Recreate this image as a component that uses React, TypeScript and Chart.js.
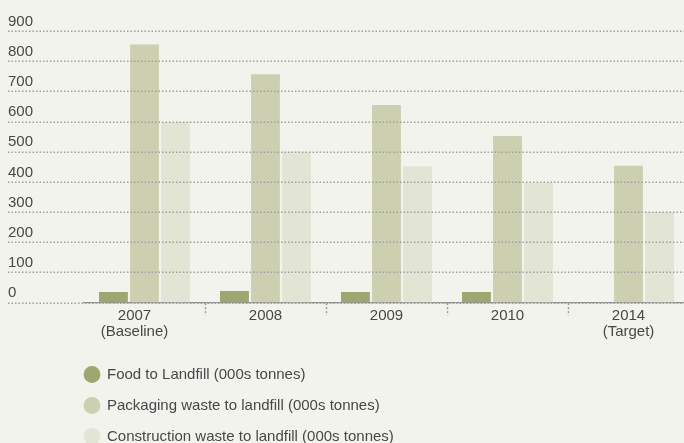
import React, { useEffect, useRef } from "react";
import { Chart, registerables } from "chart.js";

Chart.register(...registerables);

const categories: (string | string[])[] = [["2007", "(Baseline)"], "2008", "2009", "2010", ["2014", "(Target)"]];
const foodValues: (number | null)[] = [35, 38, 35, 35, null];
const packagingValues: number[] = [855, 757, 655, 552, 453];
const constructionValues: number[] = [598, 500, 452, 397, 300];
const seriesLabels: string[] = [
  "Food to Landfill (000s tonnes)",
  "Packaging waste to landfill (000s tonnes)",
  "Construction waste to landfill (000s tonnes)",
];
const seriesColors: string[] = ["#a0a672", "#cccfb0", "#e2e4d4"];
const yTicks: number[] = [0, 100, 200, 300, 400, 500, 600, 700, 800, 900];

const FONT = "'Liberation Sans', Arial, Helvetica, sans-serif";
const TEXT_COLOR = "#474747";
const BG = "#f3f3ee";
const CANVAS_W = 692;
const CANVAS_H = 443;

const gridPlugin = {
  id: "customGrid",
  afterDatasetsDraw(chart: any) {
    const { ctx, scales } = chart;
    const y = scales.y;
    ctx.save();
    ctx.strokeStyle = "#a0a0a0";
    ctx.lineWidth = 1.5;
    ctx.setLineDash([1.5, 2]);
    yTicks.forEach((v) => {
      const py = Math.round(y.getPixelForValue(v)) + 0.25;
      ctx.beginPath();
      ctx.moveTo(8, py);
      ctx.lineTo(chart.width, py);
      ctx.stroke();
    });
    ctx.setLineDash([]);
    ctx.fillStyle = TEXT_COLOR;
    ctx.font = `15px ${FONT}`;
    ctx.textAlign = "left";
    ctx.textBaseline = "alphabetic";
    yTicks.forEach((v) => {
      const py = y.getPixelForValue(v);
      ctx.fillText(String(v), 8, py - 5.3);
    });
    ctx.restore();
  },
};

// the first category label sits a little left of its bar group in the reference
const labelShiftPlugin = {
  id: "labelShift",
  afterUpdate(chart: any) {
    const x = chart.scales.x;
    const items = x.getLabelItems();
    if (items && items[0] && items[0].options && items[0].options.translation) {
      items[0].options.translation[0] -= 10;
    }
  },
};

const legendPlugin = {
  id: "customLegend",
  afterDraw(chart: any) {
    const { ctx } = chart;
    ctx.save();
    ctx.font = `15px ${FONT}`;
    ctx.textAlign = "left";
    ctx.textBaseline = "middle";
    chart.data.datasets.forEach((ds: any, i: number) => {
      const cy = 374.5 + i * 31;
      ctx.beginPath();
      ctx.fillStyle = ds.backgroundColor;
      ctx.arc(92, cy, 8.4, 0, Math.PI * 2);
      ctx.fill();
      ctx.fillStyle = TEXT_COLOR;
      ctx.fillText(ds.label, 107, cy + 0.5);
    });
    ctx.restore();
  },
};

export default function App() {
  const ref = useRef<HTMLCanvasElement | null>(null);

  useEffect(() => {
    if (!ref.current) return;
    Chart.defaults.font.family = FONT;
    const chart = new Chart(ref.current, {
      type: "bar",
      data: {
        labels: categories as any,
        datasets: [
          { label: seriesLabels[0], data: foodValues, backgroundColor: seriesColors[0] },
          { label: seriesLabels[1], data: packagingValues, backgroundColor: seriesColors[1] },
          { label: seriesLabels[2], data: constructionValues, backgroundColor: seriesColors[2] },
        ],
      },
      options: {
        responsive: false,
        animation: false,
        devicePixelRatio: 1,
        layout: { padding: { left: 84, right: 3, top: 31, bottom: 100.5 } },
        datasets: { bar: { categoryPercentage: 0.77, barPercentage: 0.93 } },
        plugins: {
          legend: { display: false },
          tooltip: { enabled: false },
        },
        scales: {
          y: {
            display: false,
            min: 0,
            max: 900,
          },
          x: {
            afterFit: (scale: any) => {
              scale.height = 40;
            },
            grid: {
              display: true,
              drawOnChartArea: false,
              drawTicks: true,
              tickLength: 13,
              offset: true,
              color: (c: any) => (c.index === 0 || c.index === categories.length ? "rgba(0,0,0,0)" : "#9a9a9a"),
              tickBorderDash: [2, 2],
              tickWidth: 1.5,
            },
            border: { display: true, color: "#8f8f8f", width: 1.2, dash: [1, 1] },
            ticks: {
              color: TEXT_COLOR,
              font: { size: 15, lineHeight: 1.1, family: FONT },
              padding: -8,
              maxRotation: 0,
              autoSkip: false,
            },
          },
        },
      },
      plugins: [gridPlugin, labelShiftPlugin, legendPlugin],
    });
    return () => chart.destroy();
  }, []);

  return (
    <div style={{ position: "fixed", left: 0, top: 0, width: 684, height: 443, background: BG, overflow: "hidden" }}>
      <canvas ref={ref} width={CANVAS_W} height={CANVAS_H} style={{ display: "block", width: CANVAS_W, height: CANVAS_H }} />
    </div>
  );
}
